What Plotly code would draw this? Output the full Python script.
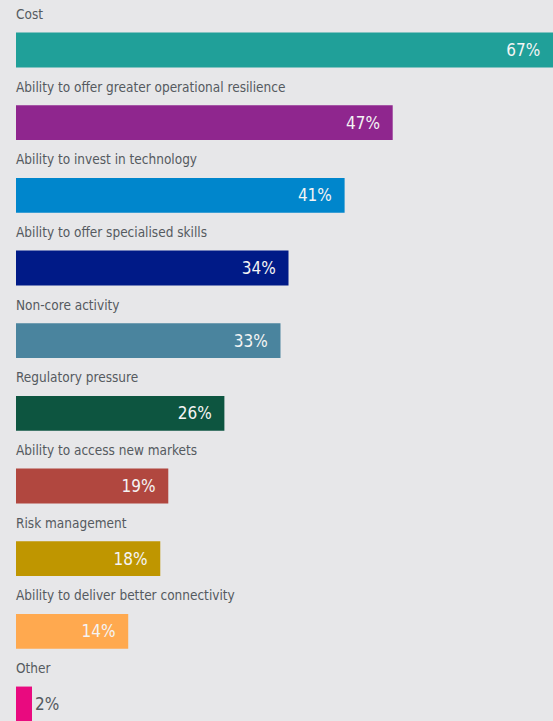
import plotly.graph_objects as go

categories = [
    "Cost",
    "Ability to offer greater operational resilience",
    "Ability to invest in technology",
    "Ability to offer specialised skills",
    "Non-core activity",
    "Regulatory pressure",
    "Ability to access new markets",
    "Risk management",
    "Ability to deliver better connectivity",
    "Other",
]
values = [67, 47, 41, 34, 33, 26, 19, 18, 14, 2]
colors = ["#20a099", "#8f268e", "#0086cc", "#001a87", "#4a849e",
          "#0d5540", "#b1473f", "#bf9600", "#ffa94f", "#e90a7f"]

FONT = "Liberation Sans Narrow, DejaVu Sans Condensed, Roboto, sans-serif"

fig = go.Figure(go.Bar(
    x=values,
    y=categories,
    orientation="h",
    marker=dict(color=colors, line=dict(width=0)),
    text=[f"{v}%\u00a0\u00a0" for v in values],
    textposition="auto",
    insidetextanchor="end",
    insidetextfont=dict(color="#f4f4f4", size=17, family=FONT, weight=300),
    outsidetextfont=dict(color="#555a5f", size=17, family=FONT, weight=300),
    cliponaxis=False,
    hoverinfo="skip",
))

n = len(categories)
fig.update_layout(
    width=553, height=721,
    margin=dict(l=16, r=0, t=0, b=0),
    paper_bgcolor="#e7e7e9",
    plot_bgcolor="#e7e7e9",
    bargap=0.52,
    showlegend=False,
    xaxis=dict(range=[0, max(values)], visible=False, fixedrange=True),
    yaxis=dict(type="category", categoryorder="array", categoryarray=categories,
               range=[n - 1 + 0.234, -0.688], visible=False, fixedrange=True),
)

for c in categories:
    fig.add_annotation(
        x=0, y=c, xref="x", yref="y", text=c, showarrow=False,
        xanchor="left", yanchor="middle", yshift=36, xshift=-2,
        font=dict(size=13.5, color="#555a5f", family=FONT),
    )

fig.write_html("out.html")
